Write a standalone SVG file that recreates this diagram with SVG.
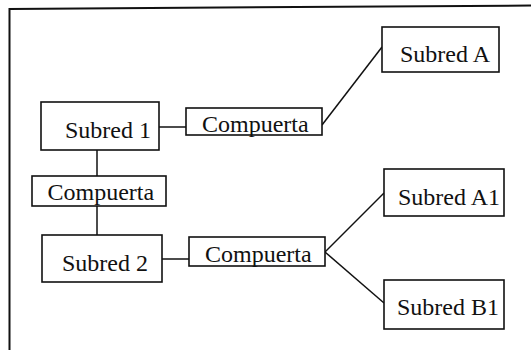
<svg xmlns="http://www.w3.org/2000/svg" width="531" height="350" viewBox="0 0 531 350">
<style>
.box{fill:#fff;stroke:#111;stroke-width:1.6}
.lbl{font-family:"Liberation Serif","Times New Roman",serif;font-size:24px;fill:#111}
.con{fill:none;stroke:#111;stroke-width:1.5}
.frame{fill:none;stroke:#111;stroke-width:2}
</style>
<rect width="531" height="350" fill="#fff"/>
<path class="frame" d="M9.5,350 V9 L531,5.5"/>
<g id="connectors">
<line class="con" x1="159" y1="127" x2="186" y2="127"/>
<line class="con" x1="322" y1="125" x2="382" y2="47"/>
<line class="con" x1="97" y1="150" x2="97" y2="176"/>
<line class="con" x1="97" y1="206" x2="97" y2="235"/>
<line class="con" x1="162" y1="259" x2="189" y2="259"/>
<line class="con" x1="325" y1="252" x2="384" y2="193"/>
<line class="con" x1="325" y1="252" x2="384" y2="303"/>
</g>
<g id="subredA"><rect class="box" x="382" y="27" width="117" height="45"/><text class="lbl" x="400" y="62">Subred A</text></g>
<g id="subred1"><rect class="box" x="41" y="102" width="118" height="48"/><text class="lbl" x="65" y="138">Subred 1</text></g>
<g id="compuerta1"><rect class="box" x="186" y="108" width="136" height="27"/><text class="lbl" x="202" y="132">Compuerta</text></g>
<g id="compuerta2"><rect class="box" x="32" y="176" width="134" height="30"/><text class="lbl" x="47.5" y="200">Compuerta</text></g>
<g id="subred2"><rect class="box" x="42" y="235" width="120" height="47"/><text class="lbl" x="62" y="271">Subred 2</text></g>
<g id="compuerta3"><rect class="box" x="189" y="237" width="136" height="29"/><text class="lbl" x="205" y="262">Compuerta</text></g>
<g id="subredA1"><rect class="box" x="384" y="169" width="120" height="47"/><text class="lbl" x="398" y="205">Subred A1</text></g>
<g id="subredB1"><rect class="box" x="384" y="280" width="120" height="49"/><text class="lbl" x="397" y="315">Subred B1</text></g>
</svg>
